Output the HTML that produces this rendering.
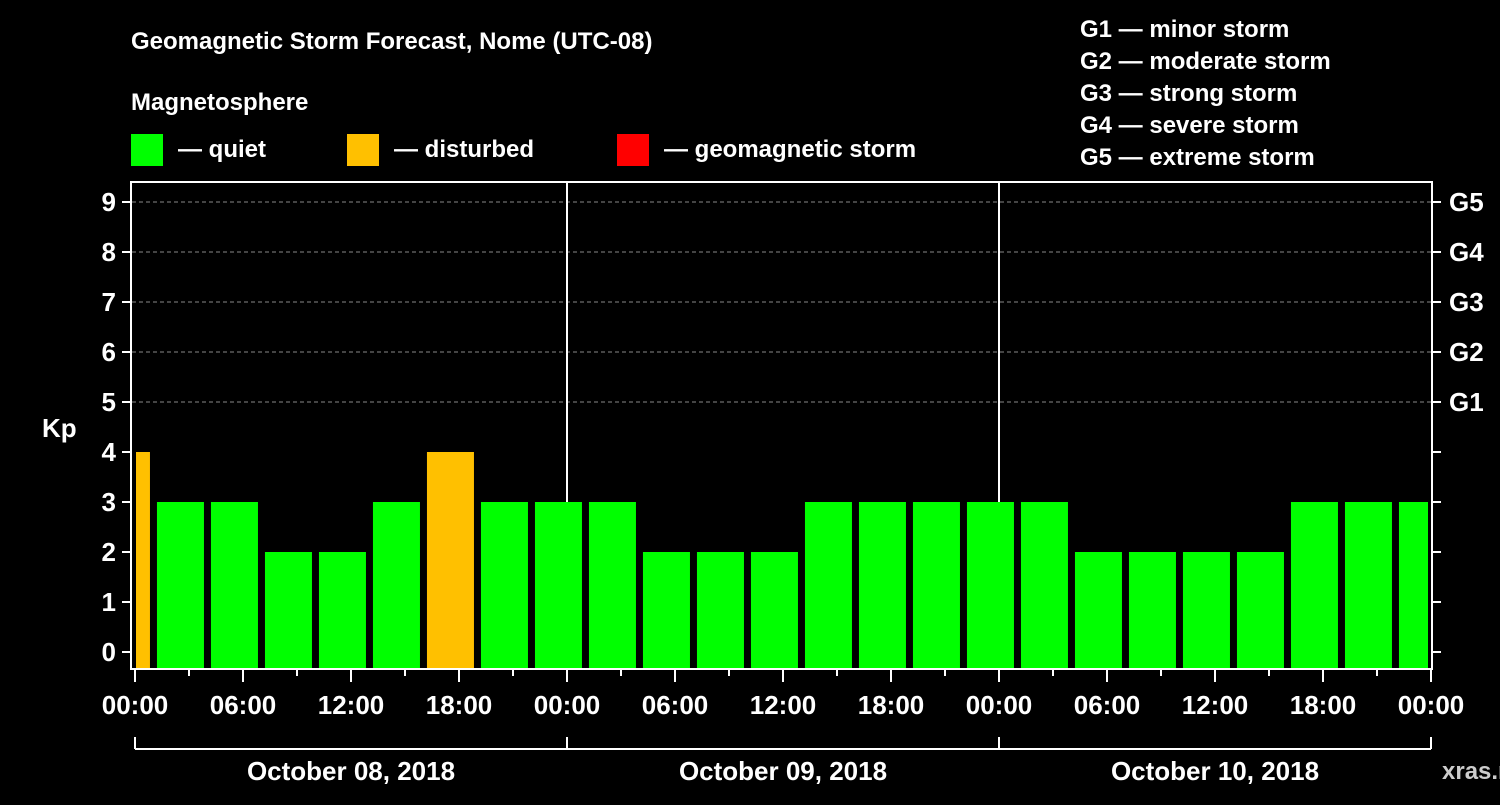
<!DOCTYPE html>
<html><head><meta charset="utf-8"><style>
body{margin:0;background:#000;width:1500px;height:800px;overflow:hidden}
svg text{font-family:"Liberation Sans",sans-serif;font-weight:bold;fill:#fff}
</style></head><body>
<svg id="c" width="1500" height="800">
<text x="131" y="49" font-size="24">Geomagnetic Storm Forecast, Nome (UTC-08)</text>
<text x="131" y="110" font-size="24">Magnetosphere</text>
<rect x="131" y="134" width="32" height="32" fill="#00ff00"/>
<text x="178" y="157" font-size="24">— quiet</text>
<rect x="347" y="134" width="32" height="32" fill="#ffc000"/>
<text x="394" y="157" font-size="24">— disturbed</text>
<rect x="617" y="134" width="32" height="32" fill="#ff0000"/>
<text x="664" y="157" font-size="24">— geomagnetic storm</text>
<g font-size="24">
<text x="1080" y="37">G1 — minor storm</text>
<text x="1080" y="69">G2 — moderate storm</text>
<text x="1080" y="101">G3 — strong storm</text>
<text x="1080" y="133">G4 — severe storm</text>
<text x="1080" y="165">G5 — extreme storm</text>
</g>
<text x="42" y="437" font-size="26">Kp</text>
<text x="1442" y="779" font-size="24" fill="#ccc" style="fill:#cccccc">xras.ru</text>
<g id="grid"></g><defs><clipPath id="clip"><rect x="136" y="180" width="1292" height="490"/></clipPath></defs>
<g id="bars" clip-path="url(#clip)"></g><g id="axes"></g>
</svg>
<script>
const values=[4,3,3,2,2,3,4,3,3,3,2,2,2,3,3,3,3,3,2,2,2,2,3,3,3];
const yTicks=[0,1,2,3,4,5,6,7,8,9];
const gLabels=["G1","G2","G3","G4","G5"];
const gLevels=[5,6,7,8,9];
const hourLabels=["00:00","06:00","12:00","18:00"];
const days=["October 08, 2018","October 09, 2018","October 10, 2018"];
const firstBarHour=-1.78;
const NS="http://www.w3.org/2000/svg";
const X0=135,PXH=18,Y0=652,PXU=50;
const xs=h=>X0+h*PXH, ys=v=>Y0-v*PXU;
function mk(t,a,p){const e=document.createElementNS(NS,t);for(const k in a)e.setAttribute(k,a[k]);p.appendChild(e);return e;}
const grid=document.getElementById('grid'),bars=document.getElementById('bars'),axes=document.getElementById('axes');
gLevels.forEach(v=>{const l=mk('line',{x1:132,x2:1431,y1:ys(v),y2:ys(v),stroke:'#888','stroke-dasharray':'4,3'},grid);

});
[1,2].forEach(d=>{const l=mk('line',{x1:xs(24*d),x2:xs(24*d),y1:182,y2:668,stroke:'#fff','stroke-width':2},grid);

});
values.forEach((v,i)=>{const h0=firstBarHour+3*i;
const r=mk('rect',{x:xs(h0),y:ys(v),width:47,height:668-ys(v),fill:v>=5?'#ff0000':v>=4?'#ffc000':'#00ff00'},bars);

});
const f=mk('rect',{x:131,y:182,width:1301,height:487,fill:'none',stroke:'#fff','stroke-width':2},axes);


yTicks.forEach(v=>{mk('line',{x1:122,x2:131,y1:ys(v),y2:ys(v),stroke:'#fff','stroke-width':2},axes);
mk('line',{x1:1432,x2:1441,y1:ys(v),y2:ys(v),stroke:'#fff','stroke-width':2},axes);
const t=mk('text',{x:116,y:ys(v)+9,'font-size':26,'text-anchor':'end'},axes);t.textContent=v;

});
gLabels.forEach((g,i)=>{const t=mk('text',{x:1449,y:ys(gLevels[i])+9,'font-size':26},axes);t.textContent=g;

});
for(let h=0;h<=72;h+=3){const major=h%6==0;
mk('line',{x1:xs(h),x2:xs(h),y1:669,y2:major?682:676,stroke:'#fff','stroke-width':2},axes);
if(major){const t=mk('text',{x:xs(h),y:714,'font-size':26,'text-anchor':'middle'},axes);t.textContent=hourLabels[(h/6)%4];

}}
mk('line',{x1:xs(0),x2:xs(72),y1:749,y2:749,stroke:'#fff','stroke-width':2},axes);
for(let d=0;d<=3;d++)mk('line',{x1:xs(24*d),x2:xs(24*d),y1:737,y2:749,stroke:'#fff','stroke-width':2},axes);
days.forEach((d,i)=>{const t=mk('text',{x:xs(24*i+12),y:780,'font-size':26,'text-anchor':'middle'},axes);t.textContent=d;

});
</script>
</body></html>
